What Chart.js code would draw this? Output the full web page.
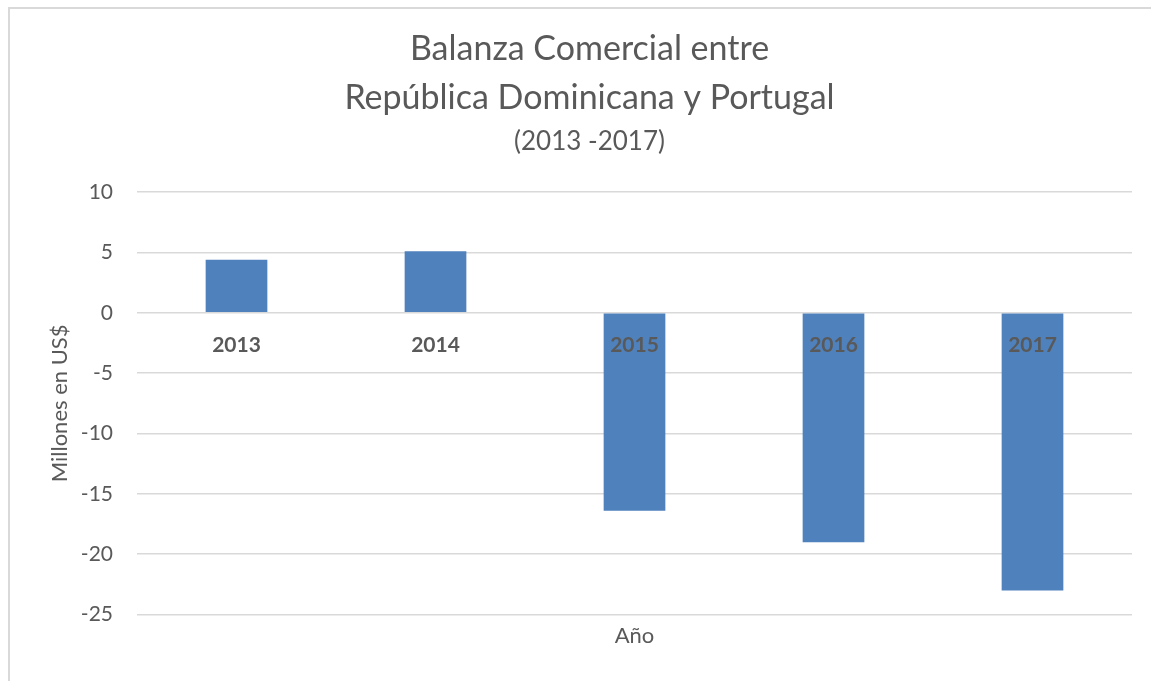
<!DOCTYPE html>
<html>
<head>
<meta charset="utf-8">
<script src="https://cdn.jsdelivr.net/npm/chart.js@4"></script>
<style>
    html, body { margin: 0; padding: 0; background: #ffffff; overflow: hidden; }
    #marco {
        position: absolute;
        left: 8px;
        top: 7px;
        width: 1160px;
        height: 700px;
        border: 2px solid #d9d9d9;
    }
    #contenedor {
        position: absolute;
        left: 0;
        top: 0;
        width: 1170px;
        height: 681px;
    }
</style>
</head>
<body>
<div id="marco"></div>
<div id="contenedor">
    <canvas id="chart-balanza"></canvas>
</div>
<script>
// Balanza comercial RD - Portugal (millones de US$)
const anios = ['2013', '2014', '2015', '2016', '2017'];
const balanza = [4.4, 5.1, -16.4, -19.0, -23.0];
const tituloLineas = ['Balanza Comercial entre', 'República Dominicana y Portugal'];
const subtitulo = '(2013 -2017)';
const ejeY = 'Millones en US$';
const ejeX = 'Año';

const gris = '#595959';
const fuente = 'Lato, "Open Sans", sans-serif';

// Etiquetas de categoría junto a la línea del cero
const etiquetasCero = {
    id: 'etiquetasCero',
    afterDatasetsDraw(chart) {
        const ctx = chart.ctx;
        const x = chart.scales.x;
        const y = chart.scales.y;
        const y0 = y.getPixelForValue(0);
        ctx.save();
        ctx.font = 'bold 21px ' + fuente;
        ctx.fillStyle = gris;
        ctx.textAlign = 'center';
        ctx.textBaseline = 'middle';
        anios.forEach((anio, i) => {
            ctx.fillText(anio, x.getPixelForValue(i), y0 + 32);
        });
        ctx.restore();
    }
};

const ctx = document.getElementById('chart-balanza').getContext('2d');
new Chart(ctx, {
    type: 'bar',
    data: {
        labels: anios,
        datasets: [{
            label: 'Balanza',
            data: balanza,
            backgroundColor: '#4f81bd',
            borderColor: '#4f81bd',
            borderWidth: 0,
            categoryPercentage: 1,
            barPercentage: 0.31
        }]
    },
    options: {
        responsive: true,
        maintainAspectRatio: false,
        animation: false,
        layout: {
            padding: { top: 25, left: 47, right: 38, bottom: 32 }
        },
        plugins: {
            legend: { display: false },
            tooltip: { enabled: false },
            title: {
                display: true,
                text: tituloLineas,
                color: gris,
                font: { family: fuente, size: 34, weight: 'normal', lineHeight: 1.44 },
                padding: { top: 0, bottom: 3 }
            },
            subtitle: {
                display: true,
                text: subtitulo,
                color: gris,
                font: { family: fuente, size: 26, weight: 'normal', lineHeight: 1.2 },
                padding: { top: 0, bottom: 35 }
            }
        },
        scales: {
            x: {
                grid: { display: false },
                border: { display: false },
                ticks: { display: false },
                title: {
                    display: true,
                    text: ejeX,
                    color: gris,
                    font: { family: fuente, size: 22 },
                    padding: { top: 0, bottom: 0 }
                }
            },
            y: {
                min: -25,
                max: 10,
                afterFit: (escala) => { escala.width = 90; },
                grid: { color: '#d9d9d9', lineWidth: 1.5, drawTicks: false },
                border: { display: false },
                ticks: {
                    stepSize: 5,
                    color: gris,
                    padding: 24,
                    font: { family: fuente, size: 21 }
                },
                title: {
                    display: true,
                    text: ejeY,
                    color: gris,
                    font: { family: fuente, size: 22 },
                    padding: { top: 0, bottom: 10 }
                }
            }
        }
    },
    plugins: [etiquetasCero]
});
</script>
</body>
</html>
